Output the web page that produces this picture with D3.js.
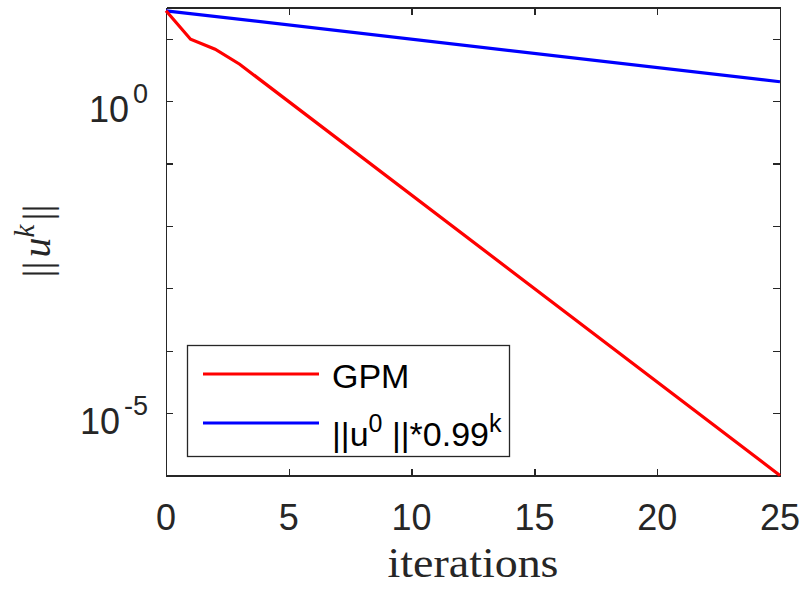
<!DOCTYPE html>
<html>
<head>
<meta charset="utf-8">
<script src="https://cdn.jsdelivr.net/npm/d3@7"></script>
<style>
  body { margin: 0; background: #fff; }
  .axis path, .axis line { stroke: #262626; stroke-width: 1.3px; shape-rendering: crispEdges; }
  .tick-label { font-family: "Liberation Sans", Arial, sans-serif; fill: #262626; }
</style>
</head>
<body>
<div class="viz"></div>
<script>
// values
var gpmIter = [0, 1, 2, 3, 25];
var gpmNorm = [28, 9.8, 6.8, 3.9, 1.0e-6];

var refIter = [0, 25];
var refNorm = [28, 2.04];

var xTicks = [0, 5, 10, 15, 20, 25];
var yTicks = [1e-6, 1e-5, 1e-4, 1e-3, 1e-2, 1e-1, 1e0, 1e1];
var yLabelExps = [0, -5];

var legendNames = ["GPM", "||u0||*0.99k"];

var margin = {
    top: 7.5,
    left: 166,
    right: 21,
    bottom: 114.5
},
    width = 801,
    height = 590,
    innerW = width - margin.left - margin.right,
    innerH = height - margin.top - margin.bottom;

var svg = d3.select('.viz').append('svg')
    .attr('width', width)
    .attr('height', height);

var x = d3.scaleLinear()
    .domain([0, 25])
    .range([margin.left, margin.left + innerW]);

var y = d3.scaleLog()
    .domain([1e-6, Math.pow(10, 1.5)])
    .range([margin.top + innerH, margin.top]);

var tickLen = 7;

// box axes, ticks pointing inward
svg.append('g')
    .attr('class', 'axis')
    .attr('transform', 'translate(0,' + (margin.top + innerH) + ')')
    .call(d3.axisBottom(x).tickValues(xTicks).tickSize(-tickLen).tickSizeOuter(0).tickFormat(''));

svg.append('g')
    .attr('class', 'axis')
    .attr('transform', 'translate(0,' + margin.top + ')')
    .call(d3.axisTop(x).tickValues(xTicks).tickSize(-tickLen).tickSizeOuter(0).tickFormat(''));

svg.append('g')
    .attr('class', 'axis')
    .attr('transform', 'translate(' + margin.left + ',0)')
    .call(d3.axisLeft(y).tickValues(yTicks).tickSize(-tickLen).tickSizeOuter(0).tickFormat(''));

svg.append('g')
    .attr('class', 'axis')
    .attr('transform', 'translate(' + (margin.left + innerW) + ',0)')
    .call(d3.axisRight(y).tickValues(yTicks).tickSize(-tickLen).tickSizeOuter(0).tickFormat(''));

// x tick labels
svg.append('g').selectAll('text')
    .data(xTicks)
    .enter().append('text')
    .attr('class', 'tick-label')
    .attr('x', function(d) { return x(d); })
    .attr('y', 530)
    .attr('text-anchor', 'middle')
    .style('font-size', '36px')
    .text(function(d) { return d; });

// y tick labels 10^n
var yl = svg.append('g').selectAll('text')
    .data(yLabelExps)
    .enter().append('text')
    .attr('class', 'tick-label')
    .attr('x', 148)
    .attr('y', function(d) { return y(Math.pow(10, d)) + 21; })
    .attr('text-anchor', 'end')
    .style('font-size', '36px');
yl.append('tspan').text('10');
yl.append('tspan')
    .attr('dx', 4)
    .attr('dy', -19)
    .style('font-size', '27px')
    .text(function(d) { return d; });

// lines
var line = d3.line()
    .x(function(d) { return x(d[0]); })
    .y(function(d) { return y(d[1]); });

svg.append('path')
    .datum(d3.zip(refIter, refNorm))
    .attr('d', line)
    .attr('fill', 'none')
    .attr('stroke', '#0000ff')
    .attr('stroke-width', 3.2);

svg.append('path')
    .datum(d3.zip(gpmIter, gpmNorm))
    .attr('d', line)
    .attr('fill', 'none')
    .attr('stroke', '#ff0000')
    .attr('stroke-width', 3.2);

// legend
var lg = svg.append('g');
lg.append('rect')
    .attr('x', 187.5)
    .attr('y', 345.5)
    .attr('width', 322)
    .attr('height', 111)
    .attr('fill', '#fff')
    .attr('stroke', '#262626')
    .attr('stroke-width', 1.3);

lg.append('line')
    .attr('x1', 203).attr('x2', 319)
    .attr('y1', 374).attr('y2', 374)
    .attr('stroke', '#ff0000').attr('stroke-width', 3.2);
lg.append('line')
    .attr('x1', 203).attr('x2', 319)
    .attr('y1', 423).attr('y2', 423)
    .attr('stroke', '#0000ff').attr('stroke-width', 3.2);

lg.append('text')
    .attr('x', 332).attr('y', 388)
    .style('font-family', '"Liberation Sans", Arial, sans-serif')
    .style('font-size', '34px')
    .text(legendNames[0]);

var t2 = lg.append('text')
    .attr('x', 332).attr('y', 446)
    .style('font-family', '"Liberation Sans", Arial, sans-serif')
    .style('font-size', '34px');
t2.append('tspan').text('||u');
t2.append('tspan').attr('dy', -14).style('font-size', '25px').text('0');
t2.append('tspan').attr('dy', 14).text(' ||*0.99');
t2.append('tspan').attr('dy', -14).style('font-size', '25px').text('k');

// axis titles
svg.append('text')
    .attr('x', x(12.5))
    .attr('y', 577)
    .attr('text-anchor', 'middle')
    .attr('textLength', 171)
    .attr('lengthAdjust', 'spacingAndGlyphs')
    .style('font-family', '"Liberation Serif", serif')
    .style('font-size', '42px')
    .style('fill', '#262626')
    .text('iterations');

var ylab = svg.append('text')
    .attr('transform', 'translate(50,241)rotate(-90)')
    .attr('text-anchor', 'middle')
    .style('font-family', '"Liberation Serif", serif')
    .style('font-size', '40px')
    .style('fill', '#262626');
ylab.append('tspan').text('||');
ylab.append('tspan').attr('dx', 4).style('font-style', 'italic').text('u');
ylab.append('tspan').attr('dy', -16).style('font-size', '29px').style('font-style', 'italic').text('k');
ylab.append('tspan').attr('dx', 4).attr('dy', 16).text('||');
</script>
</body>
</html>
